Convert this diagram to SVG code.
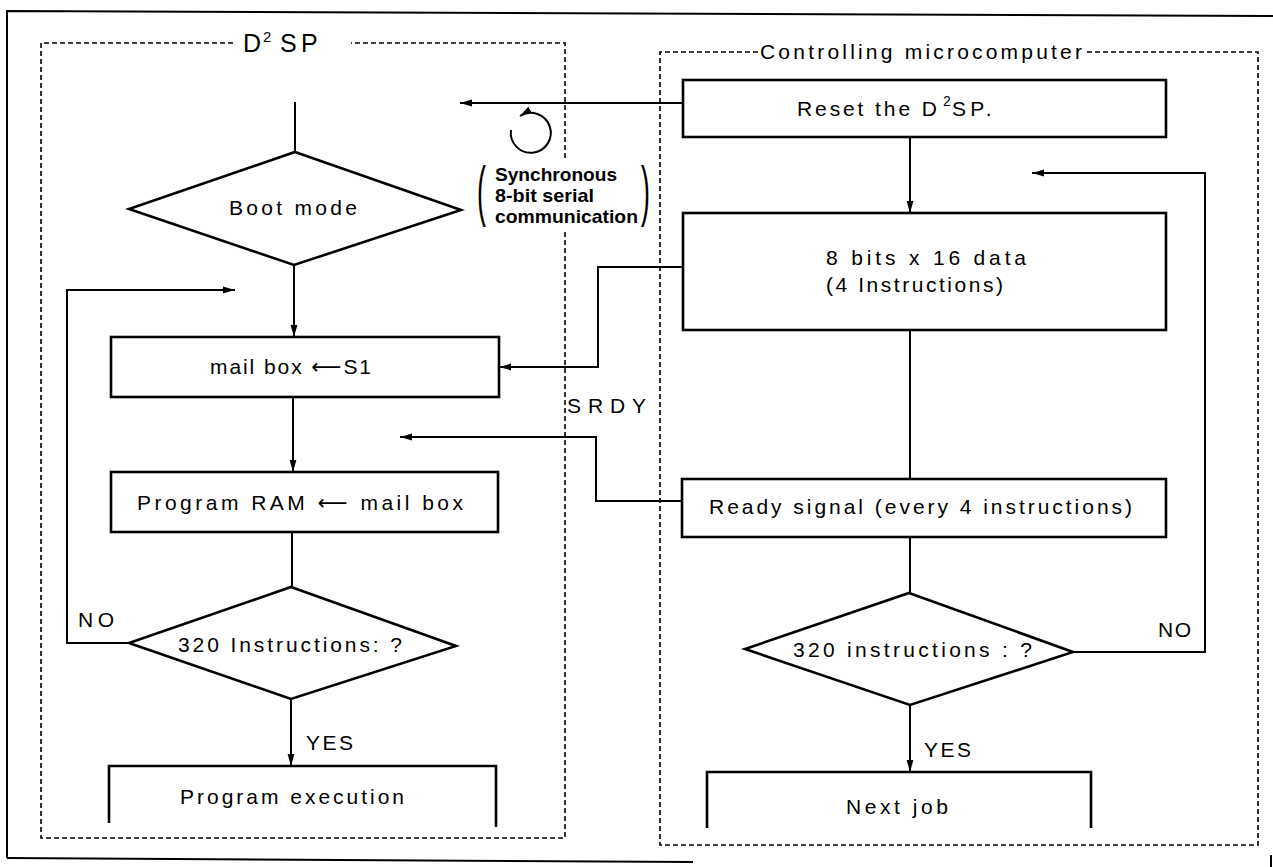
<svg xmlns="http://www.w3.org/2000/svg" width="1273" height="867" viewBox="0 0 1273 867">
<style>
.box{fill:none;stroke:#000;stroke-width:2.6}
.ln{fill:none;stroke:#000;stroke-width:2}
.frame{fill:none;stroke:#000;stroke-width:2}
.dash{fill:none;stroke:#000;stroke-width:1.6;stroke-dasharray:5 3}
.t{font-family:"Liberation Sans","DejaVu Sans",Arial,sans-serif;font-size:21px;fill:#000}
.s{font-family:"Liberation Sans","DejaVu Sans",Arial,sans-serif;font-size:19px;font-weight:bold;fill:#000}
.par{font-family:"Liberation Sans",Arial,sans-serif;font-size:67px;fill:#000}
</style>
<defs>
<marker id="ah" markerWidth="12" markerHeight="8" refX="12" refY="4" orient="auto" markerUnits="userSpaceOnUse">
<path d="M0,0.6 L12,4 L0,7.4 z" fill="#000"/>
</marker>
</defs>
<rect width="1273" height="867" fill="#fff"/>

<g id="frame">
<path class="frame" d="M7,858 V11 L1273,16"/>
<path class="frame" d="M7,858 L693,862"/>
<path class="frame" d="M1271,855 V867"/>
</g>

<g id="d2sp-group">
<path class="dash" d="M233,43 H41 V838 H565 V230 M565,158 V43 H351"/>
<text class="t" x="243" y="52" style="font-size:25px">D<tspan x="263" y="42" style="font-size:15px">2</tspan><tspan x="280" y="52" style="font-size:25px;letter-spacing:4.3px">SP</tspan></text>
</g>

<g id="micro-group">
<path class="dash" d="M758,52 H660 V845 H1258 V52 H1085"/>
<text class="t" x="760" y="59" textLength="322" lengthAdjust="spacing">Controlling microcomputer</text>
</g>

<g id="boot-mode">
<polygon class="box" points="295,152 461,210 294,265 129,209"/>
<text class="t" x="229" y="215" textLength="128" lengthAdjust="spacing">Boot mode</text>
</g>

<g id="mailbox-s1">
<rect class="box" x="111" y="337" width="388" height="60"/>
<text class="t" x="210" y="374" textLength="161" lengthAdjust="spacing">mail box ⟵S1</text>
</g>

<g id="program-ram">
<rect class="box" x="111" y="472" width="387" height="60"/>
<text class="t" x="137" y="510" textLength="326" lengthAdjust="spacing">Program RAM ⟵ mail box</text>
</g>

<g id="check-left">
<polygon class="box" points="291,587 456,646 291,699 129,643"/>
<text class="t" x="178" y="652" textLength="224" lengthAdjust="spacing">320 Instructions: ?</text>
</g>

<g id="program-execution">
<path class="box" d="M109,823 V766 H496 V827"/>
<text class="t" x="180" y="804" textLength="224" lengthAdjust="spacing">Program execution</text>
</g>

<g id="reset">
<rect class="box" x="683" y="80" width="483" height="57"/>
<text class="t" x="797" y="116" style="letter-spacing:2.9px">Reset the D<tspan x="943" y="106" style="font-size:14px;letter-spacing:0">2</tspan><tspan x="952" y="116" style="letter-spacing:4.2px">SP.</tspan></text>
</g>

<g id="send-data">
<rect class="box" x="683" y="213" width="483" height="117"/>
<text class="t" x="826" y="265" textLength="200" lengthAdjust="spacing">8 bits x 16 data</text>
<text class="t" x="826" y="292" textLength="177" lengthAdjust="spacing">(4 Instructions)</text>
</g>

<g id="ready">
<rect class="box" x="682" y="479" width="484" height="58"/>
<text class="t" x="709" y="514" textLength="423" lengthAdjust="spacing">Ready signal (every 4 instructions)</text>
</g>

<g id="check-right">
<polygon class="box" points="909,593 1073,652 910,705 745,649"/>
<text class="t" x="793" y="657" textLength="239" lengthAdjust="spacing">320 instructions : ?</text>
</g>

<g id="next-job">
<path class="box" d="M707,828 V772 H1091 V828"/>
<text class="t" x="846" y="814" textLength="102" lengthAdjust="spacing">Next job</text>
</g>

<g id="serial-note">
<text class="par" transform="translate(477,213) scale(0.4,1)" x="0" y="0">(</text>
<text class="s" x="495" y="181" textLength="122" lengthAdjust="spacingAndGlyphs">Synchronous</text>
<text class="s" x="495" y="202" textLength="99" lengthAdjust="spacingAndGlyphs">8-bit serial</text>
<text class="s" x="495" y="223" textLength="143" lengthAdjust="spacingAndGlyphs">communication</text>
<text class="par" transform="translate(641,213) scale(0.4,1)" x="0" y="0">)</text>
</g>

<g id="connectors">
<path class="ln" d="M683,103 H460" marker-end="url(#ah)"/>
<path class="ln" d="M511,130 A20,20 0 1 0 520,116" marker-end="url(#ah)"/>
<path class="ln" d="M295,102 V152"/>
<path class="ln" d="M294,265 V337" marker-end="url(#ah)"/>
<path class="ln" d="M293,397 V472" marker-end="url(#ah)"/>
<path class="ln" d="M292,532 V587"/>
<path class="ln" d="M129,643 H67 V290 H235" marker-end="url(#ah)"/>
<path class="ln" d="M291,699 V766" marker-end="url(#ah)"/>
<path class="ln" d="M910,137 V213" marker-end="url(#ah)"/>
<path class="ln" d="M683,267 H598 V367 H499" marker-end="url(#ah)"/>
<path class="ln" d="M910,330 V479"/>
<path class="ln" d="M682,501 H596 V437 H400" marker-end="url(#ah)"/>
<path class="ln" d="M910,537 V593"/>
<path class="ln" d="M1073,652 H1205 V173 H1032" marker-end="url(#ah)"/>
<path class="ln" d="M910,705 V772" marker-end="url(#ah)"/>
</g>

<g id="labels">
<text class="t" x="78" y="627" textLength="36" lengthAdjust="spacing">NO</text>
<text class="t" x="306" y="750" textLength="47" lengthAdjust="spacing">YES</text>
<text class="t" x="567" y="413" textLength="79" lengthAdjust="spacing">SRDY</text>
<text class="t" x="1158" y="637" textLength="33" lengthAdjust="spacing">NO</text>
<text class="t" x="924" y="757" textLength="47" lengthAdjust="spacing">YES</text>
</g>
</svg>
